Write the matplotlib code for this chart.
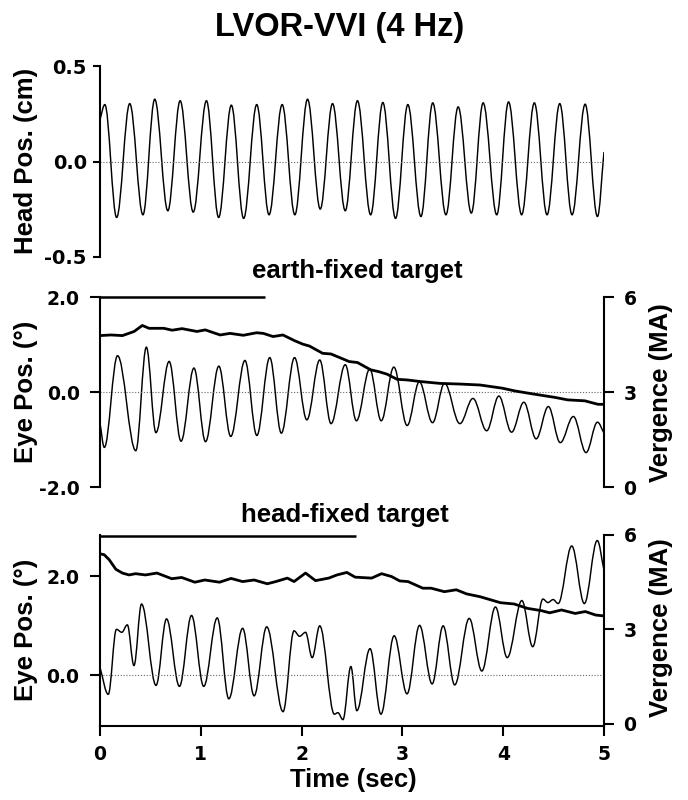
import matplotlib
matplotlib.use('Agg')
import matplotlib.pyplot as plt
from matplotlib.path import Path
from matplotlib.patches import PathPatch

plt.rcParams['font.family'] = ['Liberation Sans', 'DejaVu Sans']
plt.rcParams['font.weight'] = 'bold'

# ---------------- data ----------------
# Head position (cm): start, alternating peaks/troughs, end
head_t = [0.0, 0.048, 0.165, 0.295, 0.426, 0.543, 0.673, 0.795, 0.925, 1.056, 1.177,
          1.303, 1.425, 1.555, 1.677, 1.807, 1.933, 2.059, 2.185, 2.307, 2.433,
          2.554, 2.685, 2.806, 2.932, 3.054, 3.184, 3.301, 3.432, 3.553, 3.684,
          3.801, 3.936, 4.053, 4.183, 4.309, 4.435, 4.561, 4.683, 4.813, 4.935, 5.0]
head_v = [0.22, 0.298, -0.293, 0.303, -0.279, 0.326, -0.258, 0.318, -0.265, 0.318, -0.293,
          0.295, -0.298, 0.298, -0.279, 0.298, -0.279, 0.326, -0.249, 0.303, -0.258,
          0.318, -0.279, 0.309, -0.298, 0.298, -0.288, 0.307, -0.279, 0.286, -0.270,
          0.307, -0.279, 0.312, -0.279, 0.307, -0.279, 0.303, -0.279, 0.300, -0.288, 0.05]

# Eye position (deg), earth-fixed target
eye_earth_t = [0.0, 0.043, 0.174, 0.355, 0.46, 0.555, 0.686, 0.804, 0.932, 1.047, 1.179,
               1.297, 1.438, 1.556, 1.684, 1.799, 1.93, 2.052, 2.18, 2.292, 2.433,
               2.544, 2.676, 2.79, 2.915, 3.047, 3.168, 3.299, 3.418, 3.57, 3.7,
               3.836, 3.957, 4.083, 4.205, 4.327, 4.448, 4.566, 4.696, 4.822, 4.935, 5.0]
eye_earth_v = [-0.65, -1.16, 0.77, -1.23, 0.95, -0.85, 0.65, -1.03, 0.51, -1.04, 0.55,
               -0.93, 0.67, -0.91, 0.73, -0.86, 0.73, -0.58, 0.68, -0.66, 0.58,
               -0.60, 0.49, -0.60, 0.53, -0.70, 0.22, -0.64, 0.19, -0.66, -0.13,
               -0.81, -0.08, -0.84, -0.21, -0.98, -0.30, -1.06, -0.51, -1.27, -0.63, -0.86]

# Vergence (MA), earth-fixed target
verg_earth_t = [0.0, 0.108, 0.223, 0.338, 0.42, 0.486, 0.634, 0.716, 0.814, 0.962, 1.044,
                1.192, 1.29, 1.422, 1.553, 1.62, 1.717, 1.815, 1.93, 2.012, 2.078, 2.209,
                2.291, 2.472, 2.554, 2.685, 2.767, 2.849, 2.947, 3.046, 3.177, 3.374,
                3.571, 3.77, 3.99, 4.12, 4.29, 4.51, 4.64, 4.81, 4.94, 5.0]
verg_earth_v = [4.79, 4.81, 4.79, 4.92, 5.11, 5.02, 5.02, 4.96, 5.01, 4.92, 4.97,
                4.81, 4.86, 4.80, 4.88, 4.86, 4.76, 4.81, 4.63, 4.52, 4.46, 4.23,
                4.21, 3.97, 3.94, 3.71, 3.65, 3.57, 3.41, 3.39, 3.34, 3.28,
                3.26, 3.23, 3.13, 3.04, 2.95, 2.84, 2.76, 2.73, 2.62, 2.62]

# Eye position (deg), head-fixed target
eye_head_t = [0.0, 0.082, 0.163, 0.216, 0.271, 0.337, 0.412, 0.556, 0.66, 0.788, 0.908,
              1.029, 1.163, 1.278, 1.415, 1.529, 1.654, 1.816, 1.925, 1.98, 2.039,
              2.105, 2.18, 2.325, 2.36, 2.41, 2.489, 2.548, 2.679, 2.787, 2.918,
              3.046, 3.17, 3.295, 3.404, 3.519, 3.663, 3.788, 3.923, 4.04, 4.185,
              4.293, 4.394, 4.444, 4.495, 4.545, 4.68, 4.805, 4.933, 5.0]
eye_head_v = [0.16, -0.38, 0.93, 0.87, 1.02, 0.20, 1.44, -0.20, 1.14, -0.22, 1.21,
              -0.22, 1.16, -0.47, 0.95, -0.41, 0.98, -0.73, 0.90, 0.79, 0.87,
              0.36, 1.00, -0.78, -0.75, -0.89, 0.18, -0.71, 0.54, -0.78, 0.80,
              -0.37, 1.01, -0.17, 1.00, -0.19, 1.15, 0.09, 1.38, 0.36, 1.51,
              0.58, 1.54, 1.47, 1.53, 1.45, 2.61, 1.45, 2.72, 2.12]

# Vergence (MA), head-fixed target
verg_head_t = [0.0, 0.042, 0.092, 0.157, 0.222, 0.288, 0.353, 0.451, 0.565, 0.712, 0.81,
               0.941, 1.039, 1.186, 1.3, 1.415, 1.529, 1.66, 1.744, 1.859, 1.925,
               2.039, 2.138, 2.269, 2.351, 2.449, 2.531, 2.695, 2.793, 2.892, 2.974,
               3.056, 3.203, 3.285, 3.416, 3.535, 3.636, 3.771, 3.973, 4.108, 4.242,
               4.377, 4.461, 4.579, 4.714, 4.815, 4.916, 5.0]
verg_head_v = [5.39, 5.36, 5.20, 4.90, 4.78, 4.72, 4.76, 4.72, 4.78, 4.60, 4.64,
               4.49, 4.56, 4.49, 4.61, 4.51, 4.56, 4.44, 4.51, 4.62, 4.51,
               4.78, 4.54, 4.62, 4.72, 4.80, 4.65, 4.62, 4.76, 4.67, 4.53,
               4.51, 4.30, 4.30, 4.19, 4.25, 4.12, 4.03, 3.84, 3.80, 3.66,
               3.59, 3.52, 3.61, 3.50, 3.56, 3.45, 3.42]

# target-on bars (sec)
bar_earth_end = 1.64
bar_head_end = 2.54

time_ticks = [0, 1, 2, 3, 4, 5]
time_ticklabels = ['0', '1', '2', '3', '4', '5']

# ---------------- helpers ----------------
def smooth_path(t, v):
    """Cubic Bezier path through the read extrema (horizontal tangents at extrema)."""
    n = len(t)
    slopes = [0.0] * n
    slopes[0] = (v[1] - v[0]) / (t[1] - t[0])
    slopes[-1] = (v[-1] - v[-2]) / (t[-1] - t[-2])
    a = 0.363
    verts = [(t[0], v[0])]
    codes = [Path.MOVETO]
    for i in range(n - 1):
        dt = t[i + 1] - t[i]
        verts.append((t[i] + a * dt, v[i] + slopes[i] * a * dt))
        verts.append((t[i + 1] - a * dt, v[i + 1] - slopes[i + 1] * a * dt))
        verts.append((t[i + 1], v[i + 1]))
        codes += [Path.CURVE4] * 3
    return Path(verts, codes)


TICKFONT = 'DejaVu Sans'
SPINE_LW = 1.5
DOT_KW = dict(color='0.4', lw=0.8, linestyle=(0, (1, 1.6)))
EYE_LW = 1.05
VERG_LW = 2.0


def tick_style(ax, axis, length=7, pad=8, size=13.5):
    ax.tick_params(axis=axis, direction='out', length=length, width=1.5,
                   labelsize=size, pad=pad, labelfontfamily=TICKFONT)


fig = plt.figure(figsize=(6.88, 8.0), dpi=100)

L, W = 100 / 688, 504 / 688

# ---------- panel 1: head position ----------
ax1 = fig.add_axes([L, 0.67875, W, 0.23875])
ax1.add_patch(PathPatch(smooth_path(head_t, head_v), fill=False, lw=EYE_LW, ec='black'))
ax1.plot([0, 5], [0, 0], **DOT_KW)
ax1.set_xlim(0, 5)
ax1.set_ylim(-0.5, 0.5)
for s in ['top', 'right', 'bottom']:
    ax1.spines[s].set_visible(False)
ax1.spines['left'].set_linewidth(SPINE_LW)
ax1.xaxis.set_visible(False)
ax1.set_yticks([-0.5, 0.0, 0.5], ['-0.5', '0.0', '0.5'], fontweight='bold')
tick_style(ax1, 'y', length=5, pad=4.5, size=14)

# ---------- panel 2: earth-fixed ----------
ax2 = fig.add_axes([L, 0.3909, W, 0.2375])
ax2.add_patch(PathPatch(smooth_path(eye_earth_t, eye_earth_v), fill=False, lw=EYE_LW, ec='black'))
ax2.plot([0, 5], [0, 0], **DOT_KW)
ax2.plot([0, bar_earth_end], [2.0, 2.0], color='black', lw=1.8, clip_on=False,
         solid_capstyle='butt')
ax2.set_xlim(0, 5)
ax2.set_ylim(-2.0, 2.0)
for s in ['top', 'right', 'bottom']:
    ax2.spines[s].set_visible(False)
ax2.spines['left'].set_linewidth(SPINE_LW)
ax2.xaxis.set_visible(False)
ax2.set_yticks([-2.0, 0.0, 2.0], ['-2.0', '0.0', '2.0'], fontweight='bold')
tick_style(ax2, 'y', length=7, pad=7.5)

ax2r = ax2.twinx()
ax2r.plot(verg_earth_t, verg_earth_v, color='black', lw=VERG_LW, solid_joinstyle='round')
ax2r.set_xlim(0, 5)
ax2r.set_ylim(0, 6)
for s in ['top', 'left', 'bottom']:
    ax2r.spines[s].set_visible(False)
ax2r.spines['right'].set_linewidth(SPINE_LW)
ax2r.xaxis.set_visible(False)
ax2r.set_yticks([0, 3, 6], ['0', '3', '6'], fontweight='bold')
tick_style(ax2r, 'y', length=7, pad=7)

# ---------- panel 3: head-fixed ----------
ax3 = fig.add_axes([L, 0.0924, W, 0.2394])
ax3.add_patch(PathPatch(smooth_path(eye_head_t, eye_head_v), fill=False, lw=EYE_LW, ec='black'))
ax3.plot([0, 5], [0, 0], **DOT_KW)
ax3.set_xlim(0, 5)
ax3.set_ylim(-1.02, 2.84)
ax3.plot([0, bar_head_end], [2.82, 2.82], color='black', lw=1.8, clip_on=False,
         solid_capstyle='butt')
for s in ['top', 'right']:
    ax3.spines[s].set_visible(False)
ax3.spines['left'].set_linewidth(SPINE_LW)
ax3.spines['bottom'].set_linewidth(SPINE_LW)
ax3.set_yticks([0.0, 2.0], ['0.0', '2.0'], fontweight='bold')
ax3.set_xticks(time_ticks, time_ticklabels, fontweight='bold')
tick_style(ax3, 'y', length=7, pad=8)
tick_style(ax3, 'x', length=7, pad=6.5)

ax3r = ax3.twinx()
ax3r.plot(verg_head_t, verg_head_v, color='black', lw=VERG_LW, solid_joinstyle='round')
ax3r.set_xlim(0, 5)
ax3r.set_ylim(-0.07, 6.0)
for s in ['top', 'left', 'bottom']:
    ax3r.spines[s].set_visible(False)
ax3r.spines['right'].set_linewidth(SPINE_LW)
ax3r.spines['right'].set_bounds(-0.07, 6)
ax3r.set_yticks([0, 3, 6], ['0', '3', '6'], fontweight='bold')
tick_style(ax3r, 'y', length=7, pad=7)

# ---------- texts ----------
fig.text(0.494, 0.966, 'LVOR-VVI (4 Hz)', fontsize=23.5, fontweight='bold',
         ha='center', va='center')
fig.text(0.519, 0.661, 'earth-fixed target', fontsize=18.5, fontweight='bold',
         ha='center', va='center')
fig.text(0.5015, 0.356, 'head-fixed target', fontsize=18.5, fontweight='bold',
         ha='center', va='center')
fig.text(0.513, 0.025, 'Time (sec)', fontsize=18.5, fontweight='bold',
         ha='center', va='center')

ylx = 26 / 688
fig.text(ylx, 0.7985, 'Head Pos. (cm)', fontsize=18.5, fontweight='bold',
         rotation=90, ha='center', va='center')
fig.text(ylx, 0.5097, 'Eye Pos. (°)', fontsize=18.5, fontweight='bold',
         rotation=90, ha='center', va='center')
fig.text(ylx, 0.2121, 'Eye Pos. (°)', fontsize=18.5, fontweight='bold',
         rotation=90, ha='center', va='center')
yrx = 661 / 688
fig.text(yrx, 0.5097, 'Vergence (MA)', fontsize=18.5, fontweight='bold',
         rotation=90, ha='center', va='center')
fig.text(yrx, 0.2155, 'Vergence (MA)', fontsize=18.5, fontweight='bold',
         rotation=90, ha='center', va='center')

fig.savefig('out.png', dpi=100)
